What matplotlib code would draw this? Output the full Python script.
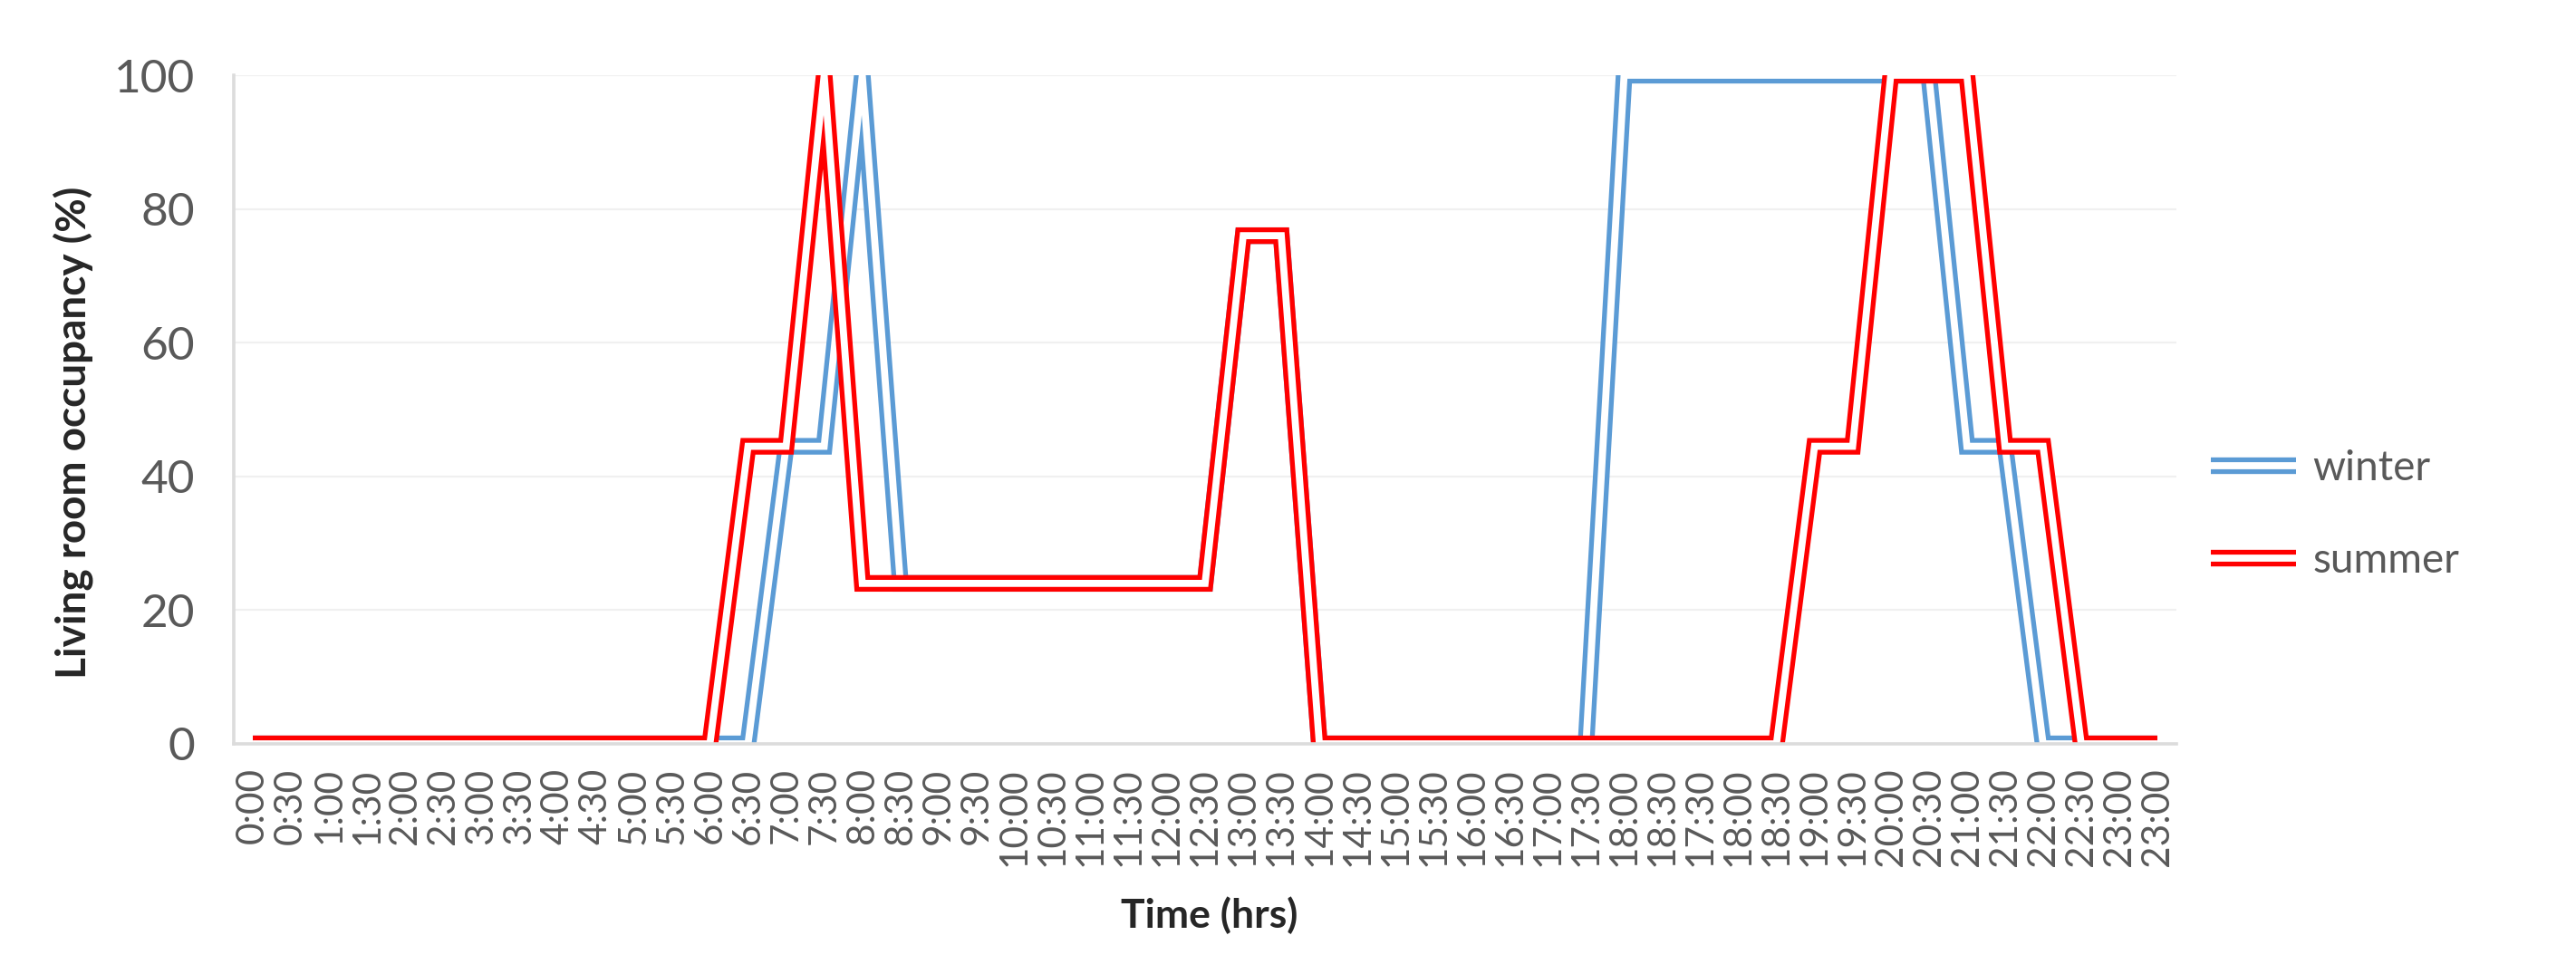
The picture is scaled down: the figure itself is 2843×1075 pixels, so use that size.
import matplotlib
matplotlib.use("Agg")
import matplotlib.pyplot as plt
from matplotlib.lines import Line2D

plt.rcParams["font.family"] = ["Lato", "DejaVu Sans"]

# Категорії осі X (так, як вони підписані на оригінальному графіку)
time_labels = [
    "0:00", "0:30", "1:00", "1:30", "2:00", "2:30", "3:00", "3:30", "4:00", "4:30",
    "5:00", "5:30", "6:00", "6:30", "7:00", "7:30", "8:00", "8:30", "9:00", "9:30",
    "10:00", "10:30", "11:00", "11:30", "12:00", "12:30", "13:00", "13:30", "14:00", "14:30",
    "15:00", "15:30", "16:00", "16:30", "17:00", "17:30", "18:00", "18:30",
    "17:30", "18:00", "18:30", "19:00", "19:30", "20:00", "20:30", "21:00", "21:30",
    "22:00", "22:30", "23:00", "23:00",
]

# Зайнятість вітальні, %
winter = [
    0, 0, 0, 0, 0, 0, 0, 0, 0, 0,
    0, 0, 0, 0, 44.5, 44.5, 100, 24, 24, 24,
    24, 24, 24, 24, 24, 24, 76, 76, 0, 0,
    0, 0, 0, 0, 0, 0, 100, 100,
    100, 100, 100, 100, 100, 100, 100, 44.5, 44.5,
    0, 0, 0, 0,
]
summer = [
    0, 0, 0, 0, 0, 0, 0, 0, 0, 0,
    0, 0, 0, 44.5, 44.5, 100, 24, 24, 24, 24,
    24, 24, 24, 24, 24, 24, 76, 76, 0, 0,
    0, 0, 0, 0, 0, 0, 0, 0,
    0, 0, 0, 44.5, 44.5, 100, 100, 100, 44.5,
    44.5, 0, 0, 0,
]

series_names = ["winter", "summer"]
series_colors = ["#5B9BD5", "#FF0000"]
y_ticks = [0, 20, 40, 60, 80, 100]

# Подвійна лінія (як у Excel): товста кольорова + тонка біла посередині
LW_OUTER = 13.2
LW_INNER = 5.6

fig = plt.figure(figsize=(28.43, 10.75), dpi=100)
ax = fig.add_axes([0.09075, 0.23628, 0.75413, 0.68651])

x = list(range(len(time_labels)))
handles = []
for values, color in zip([winter, summer], series_colors):
    ax.plot(x, values, color=color, lw=LW_OUTER, solid_joinstyle="miter",
            solid_capstyle="butt", zorder=2)
    ax.plot(x, values, color="white", lw=LW_INNER, solid_joinstyle="miter",
            solid_capstyle="butt", zorder=2)
    handles.append((Line2D([], [], color=color, lw=LW_OUTER, solid_capstyle="butt"),
                    Line2D([], [], color="white", lw=LW_INNER, solid_capstyle="butt")))

ax.set_xlim(-0.5, len(time_labels) - 0.5)
ax.set_ylim(0, 100)
ax.set_yticks(y_ticks)
ax.set_xticks(x)
ax.set_xticklabels(time_labels, rotation=90)

ax.grid(axis="y", color="#F0F0F0", linewidth=1.6, zorder=0)
ax.set_axisbelow(True)

ax.tick_params(axis="y", length=0, pad=31, labelsize=37, labelcolor="#595959")
ax.tick_params(axis="x", length=0, pad=19, labelsize=30.5, labelcolor="#595959")

for side in ["top", "right"]:
    ax.spines[side].set_visible(False)
for side in ["left", "bottom"]:
    ax.spines[side].set_color("#DCDCDC")
    ax.spines[side].set_linewidth(2.6)

ax.set_ylabel("Living room occupancy (%)", fontsize=33, fontweight="bold", color="#262626")
ax.yaxis.set_label_coords(-0.0723, 0.466)
ax.set_xlabel("Time (hrs)", fontsize=32, fontweight="bold", color="#262626")
ax.xaxis.set_label_coords(0.502, -0.228)

fig.legend(handles, series_names, loc="center left",
           bbox_to_anchor=(0.8583, 0.4716), bbox_transform=fig.transFigure,
           frameon=False, fontsize=33, labelcolor="#595959",
           handlelength=2.05, handletextpad=0.4, labelspacing=1.3,
           borderpad=0, borderaxespad=0)

fig.savefig("out.png", dpi=100)
plt.close(fig)
